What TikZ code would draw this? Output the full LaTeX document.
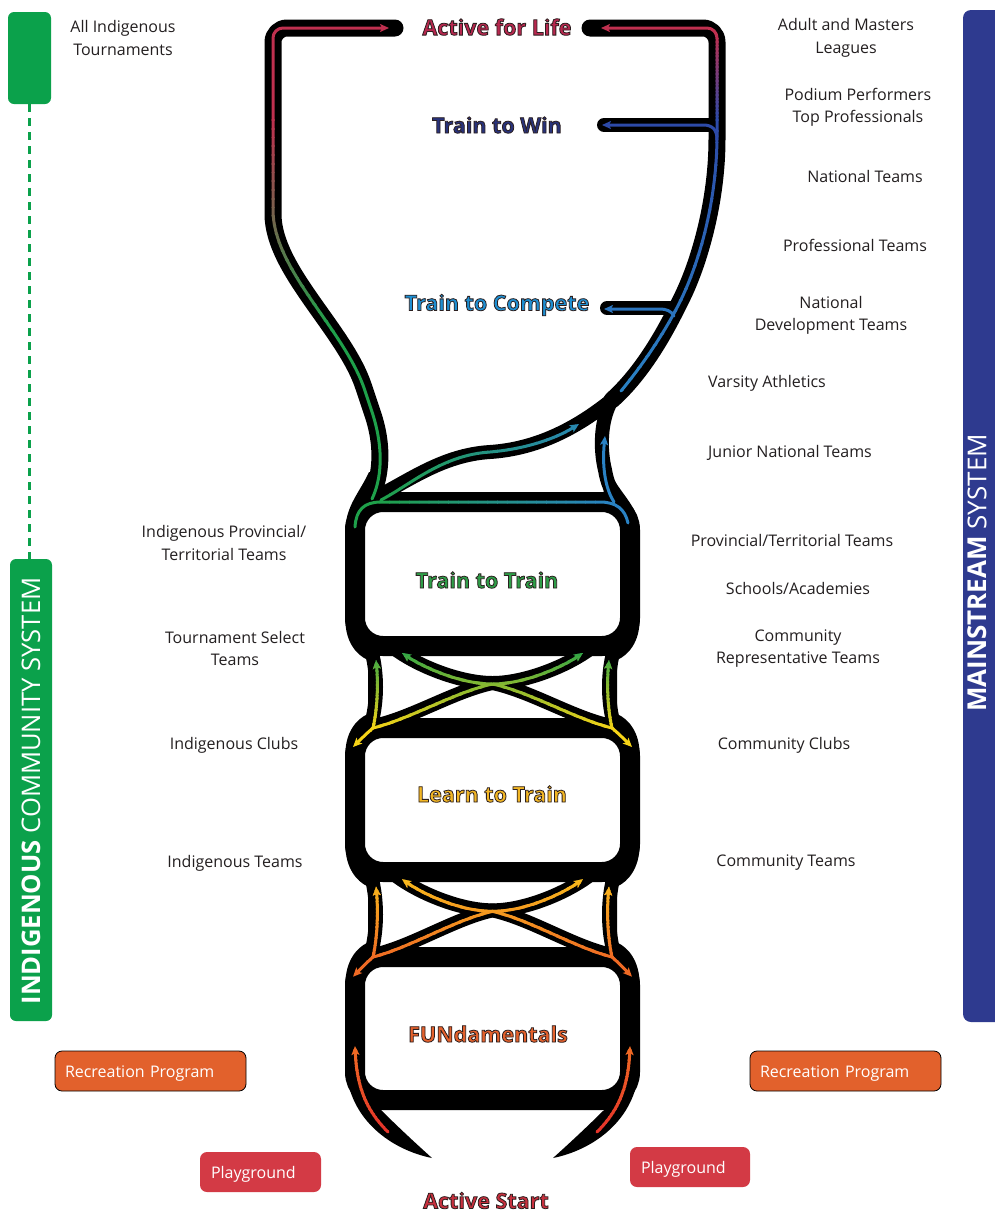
\documentclass[tikz,border=0pt]{standalone}
\usepackage{fontspec}
\setmainfont{Open Sans}
\usetikzlibrary{arrows.meta}

\definecolor{igreen}{HTML}{0BA14B}
\definecolor{mblue}{HTML}{2E3A8F}
\definecolor{tRed}{HTML}{B8284F}
\definecolor{tNavy}{HTML}{28327A}
\definecolor{tSky}{HTML}{1E8FD2}
\definecolor{tGreen}{HTML}{2E9E48}
\definecolor{tGold}{HTML}{F2B624}
\definecolor{tOrange}{HTML}{E4612C}
\definecolor{tStart}{HTML}{C8303E}
\definecolor{recOr}{HTML}{E2612C}
\definecolor{playRed}{HTML}{D33A45}
\definecolor{lGreen}{HTML}{1FA04A}
\definecolor{lRed}{HTML}{C0304F}
\definecolor{lBlue}{HTML}{2A82C4}
\definecolor{lNavy}{HTML}{2D4AA8}
\definecolor{lYellow}{HTML}{F7D417}
\definecolor{lGold}{HTML}{F9C21B}
\definecolor{lOrange}{HTML}{EF6A24}
\definecolor{lRedOr}{HTML}{E5342A}
\definecolor{txt}{HTML}{231F20}

\newcommand\outl[1]{\special{pdf:literal direct 2 Tr 0.8 w 0.17 0.12 0.12 RG}#1\special{pdf:literal direct 0 Tr}}

\newcommand\stripsV[5]{\foreach \i in {0,...,23}{\pgfmathsetmacro\ya{#1+(#3-#1)*\i/24}\pgfmathsetmacro\yb{#1+(#3-#1)*(\i+1)/24}\pgfmathtruncatemacro\pp{round(100*(\i+0.5)/24)}\colorlet{cur}{#4!\pp!#2}\begin{scope}\clip (-100,{\ya-0.3}) rectangle (1100,{\yb+0.3}); #5\end{scope}}}
\newcommand\solidV[4]{\colorlet{cur}{#3}\begin{scope}\clip (-100,#1) rectangle (1100,#2); #4\end{scope}}
\newcommand\stripsH[5]{\foreach \i in {0,...,23}{\pgfmathsetmacro\xa{#1+(#3-#1)*\i/24}\pgfmathsetmacro\xb{#1+(#3-#1)*(\i+1)/24}\pgfmathtruncatemacro\pp{round(100*(\i+0.5)/24)}\colorlet{cur}{#4!\pp!#2}\begin{scope}\clip ({\xa-0.3},-1500) rectangle ({\xb+0.3},2500); #5\end{scope}}}
\newcommand\solidH[4]{\colorlet{cur}{#3}\begin{scope}\clip (#1,-1500) rectangle (#2,2500); #4\end{scope}}

\tikzset{
  gobside/.style={line width=17pt, black, line cap=round, line join=round},
  blkband/.style={line width=14pt, black, line cap=round, line join=round},
  boxframe/.style={draw=black, fill=white, line width=20pt, rounded corners=28pt, minimum width=275pt, inner sep=0pt},
  cline/.style={line width=3pt, line cap=round},
  arr/.style={-{Stealth[length=9pt,width=8pt,inset=2pt]}},
  stage/.style={font=\fontsize{21.5}{24}\selectfont\bfseries, inner sep=0pt},
  lbl/.style={font=\fontsize{16}{22.5}\selectfont, text=txt, align=center, inner sep=0pt},
  recbox/.style={fill=recOr, draw=black, line width=0.8pt, rounded corners=7pt, minimum height=40pt, inner xsep=10pt, inner ysep=0pt, text height=13pt, text depth=1pt, align=left, text=white, font=\fontsize{16}{18}\selectfont},
  playbox/.style={fill=playRed, rounded corners=7pt, minimum height=40pt, inner xsep=11pt, inner ysep=0pt, text height=13pt, text depth=1pt, align=left, text=white, font=\fontsize{16}{18}\selectfont},
}

\newcommand\leftLine{\draw[cline,cur,arr,rounded corners=10pt] (372,499) .. controls (381,480) and (385,450) .. (368,400) .. controls (345,330) and (273,270) .. (273,200) -- (273,28) -- (389,28);}
\newcommand\rightLine{\draw[cline,cur,arr,rounded corners=10pt] (621,391) .. controls (645,362) and (662,335) .. (677,308) .. controls (700,260) and (717,200) .. (717,125) -- (717,28) -- (601,28);}
\newcommand\topBar{\draw[cline,cur] (355,527) .. controls (356,510) and (364,502) .. (381,502) -- (600,502) .. controls (616,502) and (625,509) .. (628,523);}
\newcommand\sCurve{\draw[cline,cur,arr] (381,500) .. controls (410,485) and (442,455) .. (490,452) .. controls (525,449) and (555,439) .. (579,424);}

\newcommand\connBlack{%
  \fill (345.5,-25) .. controls (345.5,-5) and (356,9) .. (368,14) -- (368,68) .. controls (356,73) and (345.5,87) .. (345.5,107) -- (372,107) -- (372,-25) -- cycle;
  \fill (639.5,-25) .. controls (639.5,-5) and (629,9) .. (617,14) -- (617,68) .. controls (629,73) and (639.5,87) .. (639.5,107) -- (613,107) -- (613,-25) -- cycle;
  \draw[blkband] (370,0) .. controls (378,25) and (378,57) .. (370,82);
  \draw[blkband] (615,0) .. controls (607,25) and (607,57) .. (615,82);
  \draw[blkband] (395,3) .. controls (418,20) and (460,37) .. (492.5,37) .. controls (525,37) and (567,20) .. (590,3);
  \draw[blkband] (378,79) .. controls (415,70) and (455,45) .. (492.5,37) .. controls (530,45) and (570,70) .. (607,79);
}
\newcommand\connLines{%
  \draw[cline,cur,arr] (373,82) .. controls (378,60) and (378,35) .. (376,14);
  \draw[cline,cur,arr] (373,82) .. controls (366,88) and (360,94) .. (353,101);
  \draw[cline,cur,arr] (373,82) .. controls (410,73) and (455,46) .. (492.5,38) .. controls (525,38) and (562,21) .. (583,7);
  \draw[cline,cur,arr] (612,82) .. controls (607,60) and (607,35) .. (609,14);
  \draw[cline,cur,arr] (612,82) .. controls (619,88) and (625,94) .. (632,101);
  \draw[cline,cur,arr] (612,82) .. controls (575,73) and (530,46) .. (492.5,38) .. controls (460,38) and (423,21) .. (402,7);
}
\newcommand\hornLines{%
  \draw[cline,cur,arr] (388,1132) .. controls (368,1112) and (357,1090) .. (355,1046);
  \draw[cline,cur,arr] (597,1132) .. controls (617,1112) and (628,1090) .. (630,1046);
}

\begin{document}
\begin{tikzpicture}[x=1pt,y=-1pt]
\useasboundingbox[fill=white] (0,0) rectangle (994,1213);

% side bars
\node[fill=igreen, rounded corners=6pt, minimum width=43pt, minimum height=92pt, inner sep=0pt] (igtop) at (29.5,58) {};
\node[fill=igreen, rounded corners=6pt, minimum width=42pt, minimum height=462pt, inner sep=0pt] (igbar) at (31,790) {};
\draw[igreen, line width=3pt, dash pattern=on 8pt off 6pt] (igtop.south) -- (igtop.south |- igbar.north);
\node[fill=mblue, rounded corners=8pt, minimum width=60pt, minimum height=1012pt, inner sep=0pt] (mbar) at (993,516) {};

% goblet black
\draw[gobside,rounded corners=14pt] (395,28) -- (273,28) -- (273,200) .. controls (273,270) and (345,330) .. (368,400) .. controls (385,450) and (380,480) .. (370,500);
\draw[gobside,rounded corners=14pt] (590,28) -- (717,28) -- (717,125) .. controls (717,200) and (700,260) .. (677,308) .. controls (660,340) and (640,375) .. (612,400);
\draw[blkband] (604,125) -- (717,125);
\draw[blkband] (607,308) -- (677,308);
\draw[blkband] (370,500) .. controls (405,484) and (440,455) .. (490,452) .. controls (535,449) and (575,430) .. (614,398);
\draw[blkband] (612,400) .. controls (600,420) and (600,450) .. (605,470) .. controls (607,482) and (611,492) .. (618,500);
\fill (369,472) .. controls (360,492) and (345.5,506) .. (345.5,530) -- (380,530) -- (378,472) -- cycle;
\fill (611,472) .. controls (616,490) and (639.5,506) .. (639.5,530) -- (605,530) -- (603,472) -- cycle;

% connectors black
\begin{scope}[shift={(0,646)}]\connBlack\end{scope}
\begin{scope}[shift={(0,872)}, yscale=1.0366]\connBlack\end{scope}

% horns
\fill (346,1030) -- (346,1068) .. controls (349,1120) and (392,1150) .. (432,1158) .. controls (412,1140) and (395,1124) .. (378,1107) -- (360,1095) -- (350,1030) -- cycle;
\fill (639,1030) -- (639,1068) .. controls (636,1120) and (593,1150) .. (553,1158) .. controls (573,1140) and (590,1124) .. (607,1107) -- (625,1095) -- (635,1030) -- cycle;

% boxes
\node[boxframe, minimum height=144pt] (ttt) at (492.5,574) {};
\node[boxframe, minimum height=144pt] (ltt) at (492.5,800) {};
\node[boxframe, minimum height=143pt] (fun) at (492.5,1028.5) {};

% coloured lines, top
\solidV{-1500}{120}{lRed}{\leftLine}
\stripsV{120}{lRed}{330}{lGreen}{\leftLine}
\solidV{330}{2500}{lGreen}{\leftLine}
\solidV{-1500}{35}{lRed}{\rightLine}
\stripsV{35}{lRed}{120}{lNavy}{\rightLine}
\stripsV{120}{lNavy}{390}{lBlue}{\rightLine}
\solidV{390}{2500}{lBlue}{\rightLine}
\draw[cline,lNavy,arr] (717,140) .. controls (717,130) and (713,125) .. (703,125) -- (602,125);
\draw[cline,lBlue!75!lNavy,arr] (674,316) .. controls (671,311) and (667,309) .. (659,309) -- (604,309);

\solidH{-100}{380}{lGreen}{\topBar\sCurve}
\stripsH{380}{lGreen}{615}{lBlue}{\topBar\sCurve}
\solidH{615}{1100}{lBlue}{\topBar\sCurve}
\draw[cline,lBlue,arr] (614,502) .. controls (605,488) and (602,466) .. (605,436);

% coloured connectors
\begin{scope}[shift={(0,646)}]
\solidV{-100}{0}{lGreen}{\connLines}
\stripsV{0}{lGreen}{85}{lYellow}{\connLines}
\solidV{85}{200}{lYellow}{\connLines}
\end{scope}
\begin{scope}[shift={(0,872)}, yscale=1.0366]
\solidV{-100}{0}{lGold}{\connLines}
\stripsV{0}{lGold}{85}{lOrange}{\connLines}
\solidV{85}{200}{lOrange}{\connLines}
\end{scope}
\solidV{-1500}{1050}{lOrange}{\hornLines}
\stripsV{1050}{lOrange}{1130}{lRedOr}{\hornLines}
\solidV{1130}{2500}{lRedOr}{\hornLines}

% program boxes
\node[recbox, text width=171pt] (recL) at (150.5,1071) {Recreation Program};
\node[recbox, text width=171pt] (recR) at (845.5,1071) {Recreation Program};
\node[playbox, text width=99pt] (playL) at (260.5,1172) {Playground};
\node[playbox, text width=98pt] (playR) at (690,1167) {Playground};

% side labels
\node[lbl] (l1) at (123,38) {All Indigenous\\Tournaments};
\node[lbl] (l2) at (224,543) {Indigenous Provincial/\\Territorial Teams};
\node[lbl] (l3) at (235,648.5) {Tournament Select\\Teams};
\node[lbl] (l4) at (234,745) {Indigenous Clubs};
\node[lbl] (l5) at (235,863) {Indigenous Teams};
\node[lbl] (r1) at (846,38) {Adult and Masters\\Leagues};
\node[lbl] (r2) at (858,107.5) {Podium Performers\\Top Professionals};
\node[lbl] (r3) at (865,176) {National Teams};
\node[lbl] (r4) at (855,245) {Professional Teams};
\node[lbl] (r5) at (831,315.5) {National\\Development Teams};
\node[lbl] (r6) at (767,383) {Varsity Athletics};
\node[lbl] (r7) at (790,453) {Junior National Teams};
\node[lbl] (r8) at (792,540) {Provincial/Territorial Teams};
\node[lbl] (r9) at (798,588) {Schools/Academies};
\node[lbl] (r10) at (798,648.5) {Community\\Representative Teams};
\node[lbl] (r11) at (784,745) {Community Clubs};
\node[lbl] (r12) at (786,863) {Community Teams};

% rotated system titles
\node[rotate=90, text=white, font=\fontsize{25.6}{26}\selectfont, inner sep=0pt] (igtxt) at (31,791) {\textbf{INDIGENOUS} COMMUNITY SYSTEM};
\node[rotate=90, text=white, font=\fontsize{26}{26}\selectfont, inner sep=0pt] (mstxt) at (977,573) {\textbf{MAINSTREAM} SYSTEM};

% stage labels
\node[stage, text=tRed] (afl) at (497,27) {\outl{Active for Life}};
\node[stage, text=tNavy] (ttw) at (497,125) {\outl{Train to Win}};
\node[stage, text=tSky] (ttc) at (497,305) {\outl{Train to Compete}};
\node[stage, text=tGreen] (tttl) at (487,580) {\outl{Train to Train}};
\node[stage, text=tGold] (lttl) at (492,794) {\outl{Learn to Train}};
\node[stage, text=tOrange] (funl) at (488,1034) {\outl{FUNdamentals}};
\node[stage, text=tStart] (asl) at (486,1200.5) {\outl{Active Start}};
\end{tikzpicture}
\end{document}
